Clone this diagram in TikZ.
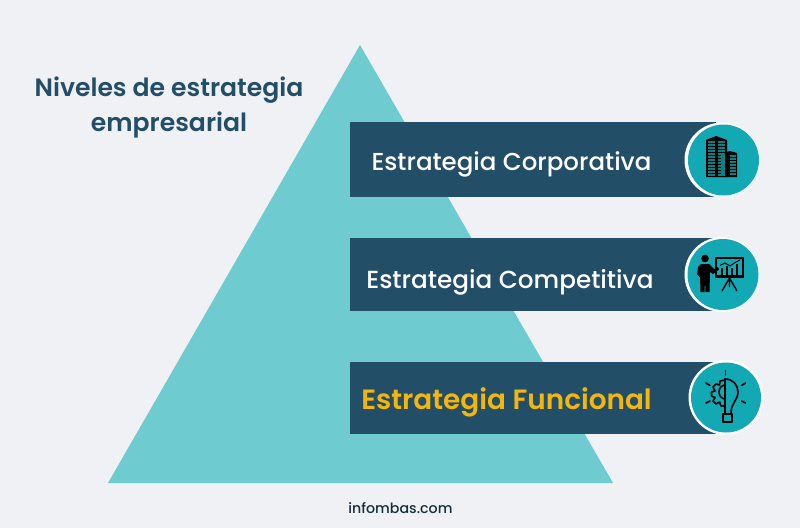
\documentclass[tikz,border=0pt]{standalone}
\usepackage{fontspec}
\setmainfont{Poppins}
\definecolor{bgc}{HTML}{EFF1F5}
\definecolor{tri}{HTML}{6ECBD0}
\definecolor{barc}{HTML}{234E68}
\definecolor{disc}{HTML}{12A8B4}
\definecolor{gold}{HTML}{F2B60F}
\definecolor{towerg}{HTML}{0E7F80}
\newcommand{\fs}[1]{\fontsize{#1}{#1}\selectfont}
\begin{document}
\begin{tikzpicture}[x=1pt,y=-1pt,
  barbox/.style={fill=barc,draw=none},
  ring/.style={fill=white,draw=none},
  discfill/.style={fill=disc,draw=none},
  lab/.style={anchor=center,inner sep=0pt,text=white},
  iconline/.style={draw=black,line width=1.6pt,line cap=round,line join=round},
  iconfill/.style={fill=black,draw=none}]
\useasboundingbox (0,0) rectangle (800,528);
\fill[bgc] (0,0) rectangle (800,528);
\fill[tri] (360,45) -- (108,483) -- (613,483) -- cycle;
% bars
\fill[barbox] (350,122) rectangle (716,196.5);
\fill[barbox] (350,238) rectangle (716,311);
\fill[barbox] (350,362) rectangle (716,434);
% discs
\fill[ring] (722,160) circle (37.5);
\fill[discfill] (723.5,160) circle (35.5);
\fill[ring] (722,274.5) circle (37.5);
\fill[discfill] (723,274.5) circle (35.5);
\fill[ring] (726,397.5) circle (37.5);
\fill[discfill] (726,397.5) circle (35);
% texts
\node[lab,text=barc] (title1) at (169,90) {\fs{25.1}\fontspec{Poppins SemiBold}Niveles de estrategia};
\node[lab,text=barc] (title2) at (169,125) {\fs{25.1}\fontspec{Poppins SemiBold}empresarial};
\node[lab] (corp) at (511.5,164) {\fs{24.5}\fontspec{Poppins Medium}Estrategia Corporativa};
\node[lab] (comp) at (510,282) {\fs{24.7}\fontspec{Poppins Medium}Estrategia Competitiva};
\node[lab,text=gold] (func) at (506.5,402) {\fs{27.9}\fontspec{Poppins SemiBold}Estrategia Funcional};
\node[lab,text=barc!60!black] (site) at (400.5,508) {\fs{14.2}\fontspec{Poppins Medium}infombas.com};
% building icon
\fill[black] (706,140) -- (716,136) -- (727,140) -- (727,177) -- (706,177) -- cycle;
\fill[black] (722,153) -- (730,151) -- (737,153) -- (737,177) -- (722,177) -- cycle;
\foreach \y in {142,145,...,175}{
  \draw[towerg,line width=1.2pt] (708,\y) -- (714.5,\y);
  \draw[towerg,line width=1.2pt] (717.5,\y) -- (725,\y);
}
\fill[black] (727,153) rectangle (728.5,177);
\foreach \y in {156,159,...,175}{
  \draw[towerg,line width=1.2pt] (721,\y) -- (725,\y);
  \draw[towerg,line width=1.2pt] (729.5,\y) -- (735.5,\y);
}
% presenter icon
\fill[iconfill] (705,258.5) circle (3.8);
\fill[iconfill] (701,264) -- (709,264) -- (714,269) -- (718,267) -- (719,269.5) -- (713,274) -- (710,272) -- (709.5,292) -- (705.5,292) -- (705,279) -- (704.5,292) -- (700.5,292) -- (700,277) -- (697,274.5) -- (698,267) -- cycle;
\draw[black,line width=1.6pt] (716,258) rectangle (743,276);
\draw[black,line width=1.6pt] (715,277.5) -- (744,277.5);
\draw[black,line width=1.4pt] (729.5,278) -- (722,291) (729.5,278) -- (737,291) (729.5,278) -- (729.5,287);
\draw[black,line width=1pt] (720,265.5) -- (725,263) -- (730,266) -- (735,262.5) -- (740,260);
\foreach \x/\t in {722/268,727/266,732/268,737/264}{\draw[black,line width=1.2pt] (\x,275) -- (\x,\t);}
% bulb icon
\draw[iconline] (725,379) .. controls (733,379) and (738,385) .. (738,392) .. controls (738,400) and (731,403) .. (731,413);
\draw[iconline] (725,379) -- (725,404) -- (725,413);
\draw[iconline] (725,385) .. controls (717,386) and (717,398) .. (725,399);
\draw[iconline] (723,414) rectangle (732,422);
\draw[iconline] (725,380) -- (720,381) -- (719.5,385) -- (716,384) -- (713,387) -- (715,391) -- (711.5,392) -- (711.5,396) -- (715,397.5) -- (713,401) -- (716,404) -- (719.5,402) -- (721,406) -- (725,406);
\draw[iconline] (725.5,370.5) -- (725.5,375);
\draw[iconline] (706,383) -- (710,385.5);
\draw[iconline] (745.5,383) -- (741.5,385.5);
\draw[iconline] (706,403) -- (710,401);
\draw[iconline] (745.5,403) -- (741.5,401);
\end{tikzpicture}
\end{document}
